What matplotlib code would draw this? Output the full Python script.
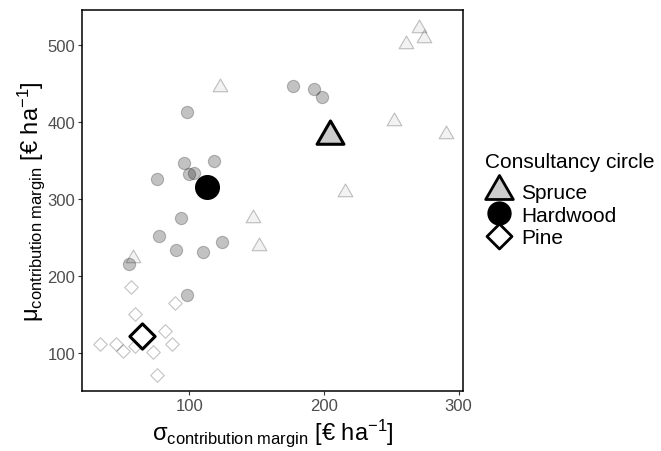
import matplotlib
matplotlib.use("Agg")
import matplotlib.pyplot as plt
from matplotlib.lines import Line2D
from matplotlib.path import Path
import numpy as np

plt.rcParams["font.family"] = "Liberation Sans"
plt.rcParams["mathtext.fontset"] = "custom"
plt.rcParams["mathtext.rm"] = "Liberation Sans"
plt.rcParams["mathtext.it"] = "Liberation Sans:italic"
plt.rcParams["mathtext.bf"] = "Liberation Sans:bold"

# individual estimates per consultancy circle (sigma, mu)
spruce_sd = [122.8, 270.5, 274.2, 260.8, 251.7, 290.3, 215.4, 147.5, 151.7, 58.0]
spruce_mu = [445.5, 522.4, 509.5, 500.9, 401.4, 385.0, 309.7, 275.2, 239.3, 223.3]

hardwood_sd = [98.1, 96.3, 118.1, 100.0, 103.3, 76.2, 177.2, 192.8, 198.5,
               93.6, 77.3, 90.1, 110.4, 124.5, 55.5, 98.1]
hardwood_mu = [413.5, 346.6, 349.2, 333.2, 334.0, 326.2, 446.4, 442.9, 432.9,
               275.6, 251.9, 234.5, 231.9, 244.9, 215.6, 175.7]

pine_sd = [56.5, 89.4, 59.7, 82.0, 33.7, 45.4, 51.0, 59.7, 72.8, 86.9, 75.8]
pine_mu = [185.7, 165.4, 151.1, 129.4, 112.2, 112.2, 103.5, 110.0, 102.3, 112.2, 72.0]

# circle means
mean_sd = {"Spruce": 204.2, "Hardwood": 113.1, "Pine": 65.1}
mean_mu = {"Spruce": 382.1, "Hardwood": 315.4, "Pine": 123.0}

groups = ["Spruce", "Hardwood", "Pine"]
fills = {"Spruce": "#cccccc", "Hardwood": "#000000", "Pine": "#ffffff"}

# triangle centred on its centroid, diamond as a square on its tip
tri = Path([(0, 1), (-0.866, -0.5), (0.866, -0.5), (0, 1)],
           [Path.MOVETO, Path.LINETO, Path.LINETO, Path.CLOSEPOLY])
dia = Path([(0, 1), (1, 0), (0, -1), (-1, 0), (0, 1)],
           [Path.MOVETO, Path.LINETO, Path.LINETO, Path.LINETO, Path.CLOSEPOLY])
markers = {"Spruce": tri, "Hardwood": "o", "Pine": dia}
small_size = {"Spruce": 150, "Hardwood": 78, "Pine": 95}
big_size = {"Spruce": 500, "Hardwood": 250, "Pine": 330}

points = {
    "Spruce": (spruce_sd, spruce_mu),
    "Hardwood": (hardwood_sd, hardwood_mu),
    "Pine": (pine_sd, pine_mu),
}

alpha = 0.24

fig = plt.figure(figsize=(6.61, 4.52), dpi=100)
ax = fig.add_axes([82.3 / 661, 1 - 391.7 / 452, 380.4 / 661, 380.7 / 452])

for g in groups:
    sd, mu = points[g]
    face = matplotlib.colors.to_rgba(fills[g], alpha)
    ax.scatter(sd, mu, s=small_size[g], marker=markers[g],
               facecolors=[face], edgecolors=[(0, 0, 0, alpha)],
               linewidths=0.8, zorder=2)

for g in groups:
    ax.scatter([mean_sd[g]], [mean_mu[g]], s=big_size[g], marker=markers[g],
               facecolors=fills[g], edgecolors="black", linewidths=2.2, zorder=3)

ax.set_xlim(20.6, 303.0)
ax.set_ylim(51.5, 545.4)
ax.set_xticks([100, 200, 300])
ax.set_yticks([100, 200, 300, 400, 500])

for side in ax.spines.values():
    side.set_linewidth(1.1)
    side.set_color("black")
ax.tick_params(direction="out", length=3, width=0.8, color="#333333",
               labelsize=12, labelcolor="#4d4d4d", pad=2)

ax.set_xlabel(r"σ$_{\mathrm{contribution\ margin}}$ [€ ha$^{-1}$]",
              fontsize=17, labelpad=3)
ax.set_ylabel(r"μ$_{\mathrm{contribution\ margin}}$ [€ ha$^{-1}$]",
              fontsize=17, labelpad=0)

# legend: title drawn on its own so the gap above the keys can be set
fig.text(485 / 661, 1 - 163 / 452, "Consultancy circle", fontsize=15,
         ha="left", va="center")
leg_ms = {"Spruce": 23, "Hardwood": 15.5, "Pine": 18}
handles = [
    Line2D([], [], linestyle="none", marker=markers[g], markersize=leg_ms[g],
           markerfacecolor=fills[g], markeredgecolor="black", markeredgewidth=2.0,
           label=g)
    for g in groups
]
fig.legend(handles=handles, loc="center left",
           bbox_to_anchor=(476 / 661, 1 - 216 / 452), frameon=False,
           fontsize=15, borderpad=0, labelspacing=0.16,
           handlelength=1.2, handletextpad=0.45)

fig.savefig("out.png", dpi=100)
